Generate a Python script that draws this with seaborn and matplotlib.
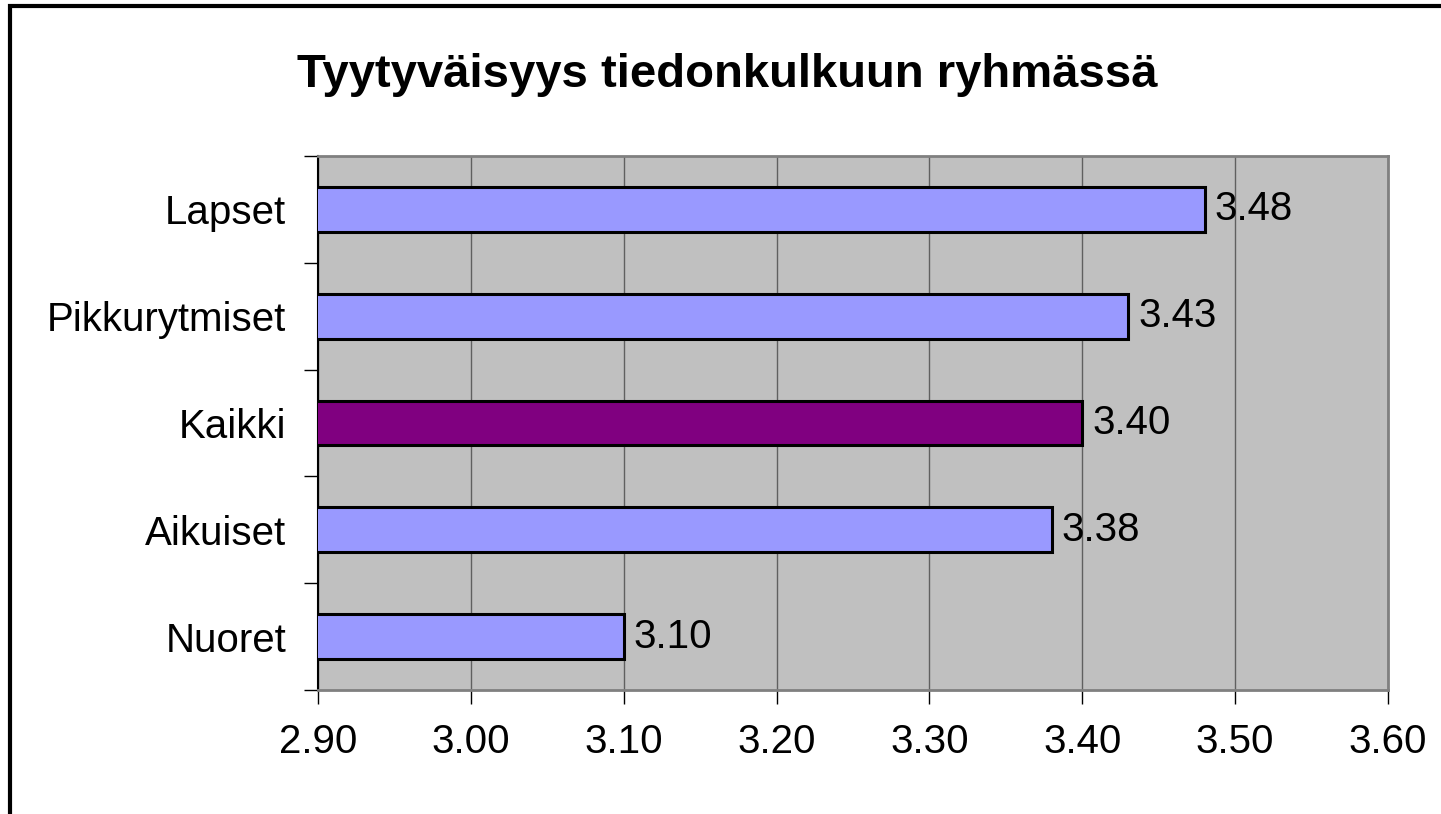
import matplotlib
matplotlib.use("Agg")
import matplotlib.pyplot as plt
import seaborn as sns
import pandas as pd
from matplotlib.patches import Rectangle

# Chart data
groups = ["Lapset", "Pikkurytmiset", "Kaikki", "Aikuiset", "Nuoret"]
scores = [3.48, 3.43, 3.40, 3.38, 3.10]
bar_colors = ["#9999FF", "#9999FF", "#800080", "#9999FF", "#9999FF"]
x_ticks = [2.90, 3.00, 3.10, 3.20, 3.30, 3.40, 3.50, 3.60]

df = pd.DataFrame({"group": groups, "score": scores})

sns.set_theme(style="white")
plt.rcParams["font.family"] = ["Liberation Sans", "DejaVu Sans"]
plt.rcParams["text.color"] = "black"
plt.rcParams["xtick.color"] = "black"
plt.rcParams["ytick.color"] = "black"

fig = plt.figure(figsize=(14.41, 8.14), dpi=100)
ax = fig.add_axes([0.2207, 0.1523, 0.7425, 0.6561])
ax.set_facecolor("#C0C0C0")

sns.barplot(data=df, y="group", x="score", hue="group", palette=bar_colors,
            order=groups, orient="h", width=0.42, edgecolor="black",
            linewidth=2.2, saturation=1, legend=False, ax=ax, zorder=3)

ax.set_xlim(2.90, 3.60)
ax.set_ylim(4.5, -0.5)
ax.set_xticks(x_ticks)
ax.set_xticklabels([f"{v:.2f}" for v in x_ticks], fontsize=29)
ax.xaxis.grid(True, color="#606060", linewidth=1.0, zorder=0)
ax.set_axisbelow(True)

# category boundaries get tick marks, labels sit in between
ax.set_yticks([i - 0.5 for i in range(len(groups) + 1)])
ax.set_yticklabels([])
ax.set_yticks(range(len(groups)), minor=True)
ax.set_yticklabels(groups, minor=True, fontsize=29)
ax.tick_params(axis="y", which="minor", length=0, pad=23)
ax.tick_params(axis="y", which="major", direction="out", length=10, width=1,
               color="black", left=True)
ax.tick_params(axis="x", direction="out", length=10, width=1, color="black",
               bottom=True, pad=14)
ax.set_xlabel("")
ax.set_ylabel("")

for side in ["top", "right", "bottom"]:
    ax.spines[side].set_color("#808080")
    ax.spines[side].set_linewidth(2)
ax.spines["left"].set_color("black")
ax.spines["left"].set_linewidth(1.5)

for i, v in enumerate(scores):
    ax.text(v + 0.0065, i, f"{v:.2f}", va="center", ha="left", fontsize=29,
            color="black", zorder=4)

fig.suptitle("Tyytyväisyys tiedonkulkuun ryhmässä", fontsize=34,
             fontweight="bold", x=0.505, y=0.908, va="center")

# outer chart frame (only the left and top edges fall inside the image)
fig.add_artist(Rectangle((10 / 1441, -0.1), 1.2, 1.1 - 6 / 814, transform=fig.transFigure,
                         fill=False, edgecolor="black", linewidth=3))

fig.savefig("out.png", dpi=100)
